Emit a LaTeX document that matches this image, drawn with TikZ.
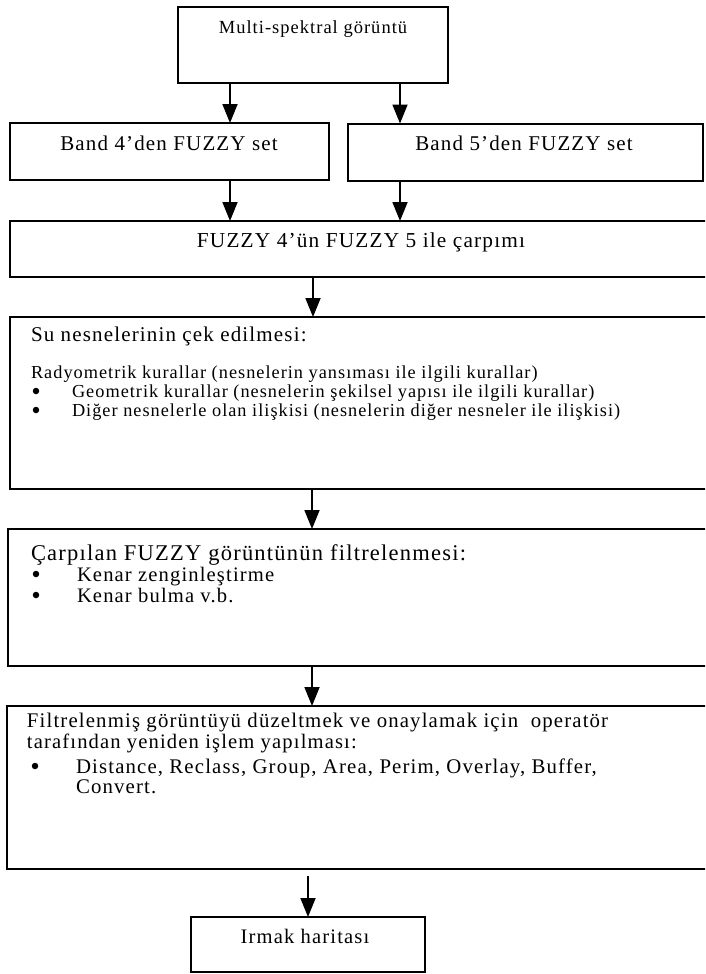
\documentclass[tikz,border=0pt]{standalone}
\usepackage{fontspec}
\setmainfont{Liberation Serif}[LetterSpace=5.5]
\usetikzlibrary{arrows.meta}
\newcommand{\fs}[1]{\fontsize{#1}{#1}\selectfont}
\tikzset{
  box/.style={draw=black, line width=2pt, inner sep=0pt, outer sep=0pt},
  arr/.style={draw=black, line width=1.8pt, -{Triangle[width=15pt,length=19pt]}},
  txt/.style={inner sep=0pt, outer sep=0pt, anchor=base west},
  ctxt/.style={inner sep=0pt, outer sep=0pt, anchor=base},
  bul/.style={circle, fill=black, inner sep=0pt, minimum size=6.5pt},
}
\begin{document}
\begin{tikzpicture}[x=1pt,y=-1pt]
\useasboundingbox (0,0) rectangle (705,974);
\clip (0,0) rectangle (705,974);
\fill[white] (0,0) rectangle (705,974);
% columns for connectors
\coordinate (cA) at (230,0);
\coordinate (cB) at (400,0);
\coordinate (cC) at (313,0);
\coordinate (cD) at (312,0);
% boxes
\node[box, minimum width=270pt, minimum height=76pt] (b1) at (313,45) {};
\node[box, minimum width=319pt, minimum height=57pt] (b4) at (169.5,151.5) {};
\node[box, minimum width=355pt, minimum height=57pt] (b5) at (525.5,152) {};
\node[box, minimum width=702pt, minimum height=56pt] (bF) at (361,249) {};
\node[box, minimum width=702pt, minimum height=172pt] (bS) at (361,403) {};
\node[box, minimum width=704pt, minimum height=137pt] (bC) at (360,597.5) {};
\node[box, minimum width=705pt, minimum height=163pt] (bL) at (359.5,787.5) {};
\node[box, minimum width=234pt, minimum height=55pt] (bI) at (308,944.5) {};
% texts
\node[ctxt, font=\fs{18.5}] (t1) at (313,34) {Multi-spektral görüntü};
\node[ctxt, font=\fs{21}] (t4) at (169,150) {Band 4’den FUZZY set};
\node[ctxt, font=\fs{21}] (t5) at (524,150) {Band 5’den FUZZY set};
\node[ctxt, font=\fs{21.3}] (tF) at (361,247) {FUZZY 4’ün FUZZY 5 ile çarpımı};
\node[txt, font=\fs{21}] (tS) at (31,341) {Su nesnelerinin çek edilmesi:};
\node[txt, font=\fs{18.3}] (tS1) at (31,378) {Radyometrik kurallar (nesnelerin yansıması ile ilgili kurallar)};
\node[bul] (uS2) at (36,391) {};
\node[txt, font=\fs{18.3}] (tS2) at (72,397) {Geometrik kurallar (nesnelerin şekilsel yapısı ile ilgili kurallar)};
\node[bul] (uS3) at (36,410) {};
\node[txt, font=\fs{18.3}] (tS3) at (72,416) {Diğer nesnelerle olan ilişkisi (nesnelerin diğer nesneler ile ilişkisi)};
\node[txt, font=\fs{22.5}] (tC) at (31,560) {Çarpılan FUZZY görüntünün filtrelenmesi:};
\node[bul] (uC1) at (36,574) {};
\node[txt, font=\fs{20.6}] (tC1) at (77,581) {Kenar zenginleştirme};
\node[bul] (uC2) at (36,595) {};
\node[txt, font=\fs{20.6}] (tC2) at (77,602) {Kenar bulma v.b.};
\node[txt, font=\fs{20.8}] (tL1) at (27,727) {Filtrelenmiş görüntüyü düzeltmek ve onaylamak için~ operatör};
\node[txt, font=\fs{20.6}] (tL2) at (27,748) {tarafından yeniden işlem yapılması:};
\node[bul] (uL3) at (35,766) {};
\node[txt, font=\fs{20.8}] (tL3) at (76,773) {Distance, Reclass, Group, Area, Perim, Overlay, Buffer,};
\node[txt, font=\fs{20.8}] (tL4) at (76,793) {Convert.};
\node[ctxt, font=\fs{20.6}] (tI) at (305,943) {Irmak haritası};
% connectors
\draw[arr] (b1.south -| cA) -- (b4.north -| cA);
\draw[arr] (b1.south -| cB) -- (b5.north -| cB);
\draw[arr] (b4.south -| cA) -- (bF.north -| cA);
\draw[arr] (b5.south -| cB) -- (bF.north -| cB);
\draw[arr] (bF.south -| cC) -- (bS.north -| cC);
\draw[arr] (bS.south -| cD) -- (bC.north -| cD);
\draw[arr] (bC.south -| cD) -- (bL.north -| cD);
\draw[arr, shorten <=7pt] (bL.south -| bI.north) -- (bI.north);
\end{tikzpicture}
\end{document}
